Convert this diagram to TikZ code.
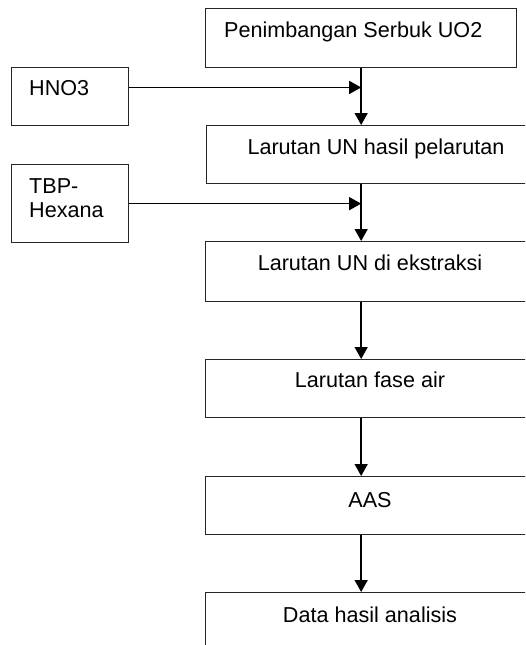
\documentclass[tikz,border=0pt]{standalone}
\usepackage{fontspec}
\setmainfont{Liberation Sans}
\usetikzlibrary{arrows.meta,calc}
\begin{document}
\begin{tikzpicture}[x=1pt,y=-1pt,
  box/.style={draw=black!85, line width=1.3pt, rectangle, inner sep=0pt, anchor=north west},
  txt/.style={font=\fontsize{21.6}{24}\selectfont, inner sep=0pt, anchor=base},
  ltxt/.style={font=\fontsize{21.6}{24}\selectfont, inner sep=0pt, anchor=base west, align=left},
  arr/.style={line width=1.5pt, -{Triangle[length=12pt,width=13pt]}}]
\useasboundingbox (0,0) rectangle (525,645);
\clip (0,0) rectangle (525,645);
% process boxes on the right
\node[box, minimum width=311pt, minimum height=59pt] (b1) at (205,8) {};
\node[box, minimum width=340pt, minimum height=58pt] (b2) at (206,125) {};
\node[box, minimum width=340pt, minimum height=60pt] (b3) at (205,241) {};
\node[box, minimum width=340pt, minimum height=58pt] (b4) at (205,359) {};
\node[box, minimum width=340pt, minimum height=58pt] (b5) at (205,476) {};
\node[box, minimum width=340pt, minimum height=80pt] (b6) at (205,592) {};
% reagent boxes on the left
\node[box, minimum width=117pt, minimum height=58pt] (hno) at (11,67) {};
\node[box, minimum width=117pt, minimum height=78pt] (tbp) at (11,164) {};
% labels
\node[ltxt] (t1) at (224,37) {Penimbangan Serbuk UO2};
\node[txt] (t2) at (376,154) {Larutan UN hasil pelarutan};
\node[txt] (t3) at (370,270) {Larutan UN di ekstraksi};
\node[txt] (t4) at (370,387) {Larutan fase air};
\node[txt] (t5) at (370,507) {AAS};
\node[txt] (t6) at (370,622) {Data hasil analisis};
\node[ltxt] (th) at (29,95) {HNO3};
\node[ltxt] (tt) at (29,193) {TBP-};
\node[ltxt] (tt2) at (29,217) {Hexana};
% main flow
\draw[arr] (b1.south) -- (b2.north -| b1.south);
\draw[arr] (b2.south -| b1.south) -- (b3.north -| b1.south);
\draw[arr] (b3.south -| b1.south) -- (b4.north -| b1.south);
\draw[arr] (b4.south -| b1.south) -- (b5.north -| b1.south);
\draw[arr] (b5.south -| b1.south) -- (b6.north -| b1.south);
% reagent feeds
\coordinate (hout) at ($(hno.north east)!0.345!(hno.south east)$);
\draw[arr] (hout) -- (hout -| b1.south);
\draw[arr] (tbp.east) -- (tbp.east -| b1.south);
\end{tikzpicture}
\end{document}
